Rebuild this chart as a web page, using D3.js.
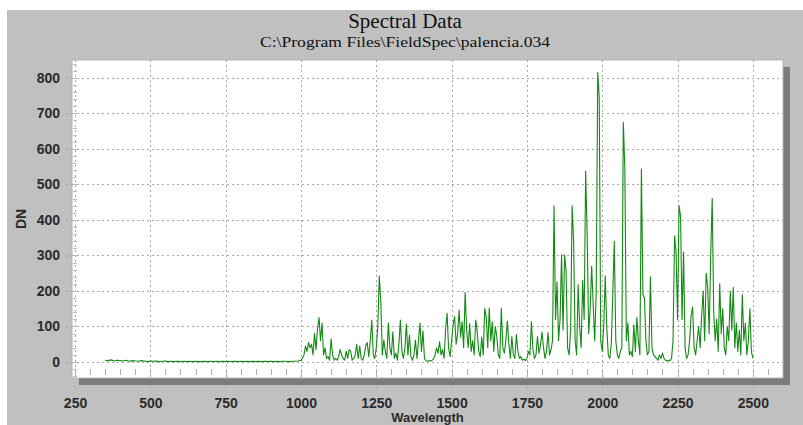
<!DOCTYPE html>
<html><head><meta charset="utf-8">
<script src="https://cdn.jsdelivr.net/npm/d3@7"></script>
<style>html,body{margin:0;padding:0;background:#fff;} svg{display:block;}</style>
</head><body>
<svg id="chart" width="803" height="425"></svg>
<script>
const title = "Spectral Data";
const subtitle = "C:\\Program Files\\FieldSpec\\palencia.034";
const xLabel = "Wavelength";
const yLabel = "DN";
const xTickValues = [250, 500, 750, 1000, 1250, 1500, 1750, 2000, 2250, 2500];
const yTickValues = [0, 100, 200, 300, 400, 500, 600, 700, 800];

const wavelengths = [
 350,360,370,380,390,400,410,420,430,440,450,460,470,480,490,500,510,520,530,540,
 550,560,570,580,590,600,610,620,630,640,650,660,670,680,690,700,710,720,730,740,
 750,760,770,780,790,800,810,820,830,840,850,860,870,880,890,900,910,920,930,940,
 950,960,970,980,990,
 1000,1005,1010,1015,1020,1025,1030,1035,1040,1045,1050,1055,1060,1065,1070,1075,1080,1085,1090,1095,
 1100,1105,1110,1115,1120,1125,1130,1135,1140,1145,1150,1155,1160,1165,1170,1175,1180,1185,1190,1195,
 1200,1205,1210,1215,1220,1225,1230,1235,1240,1245,1250,1255,1260,1265,1270,1275,1280,1285,1290,1295,
 1300,1305,1310,1315,1320,1325,1330,1335,1340,1345,1350,1355,1360,1365,1370,1375,1380,1385,1390,1395,
 1400,1405,1410,1415,1420,1425,1430,1435,1440,1445,1450,1455,1460,1465,1470,1475,1480,1485,1490,1495,
 1500,1505,1510,1515,1520,1525,1530,1535,1540,1545,1550,1555,1560,1565,1570,1575,1580,1585,1590,1595,
 1600,1605,1610,1615,1620,1625,1630,1635,1640,1645,1650,1655,1660,1665,1670,1675,1680,1685,1690,1695,
 1700,1705,1710,1715,1720,1725,1730,1735,1740,1745,1750,1755,1760,1765,1770,1775,1780,1785,1790,1795,
 1800,1805,1810,1815,1820,1825,1830,1835,1840,1845,1850,1855,1860,1865,1870,1875,1880,1885,1890,1895,
 1900,1905,1910,1915,1920,1925,1930,1935,1940,1945,1950,1955,1960,1965,1970,1975,1980,1985,1990,1995,
 2000,2005,2010,2015,2020,2025,2030,2035,2040,2045,2050,2055,2060,2065,2070,2075,2080,2085,2090,2095,
 2100,2105,2110,2115,2120,2125,2130,2135,2140,2145,2150,2155,2160,2165,2170,2175,2180,2185,2190,2195,
 2200,2205,2210,2215,2220,2225,2230,2235,2240,2245,2250,2255,2260,2265,2270,2275,2280,2285,2290,2295,
 2300,2305,2310,2315,2320,2325,2330,2335,2340,2345,2350,2355,2360,2365,2370,2375,2380,2385,2390,2395,
 2400,2405,2410,2415,2420,2425,2430,2435,2440,2445,2450,2455,2460,2465,2470,2475,2480,2485,2490,2495,
 2500
];

const dn = [
 5,4,6,3,5,4,3,5,2,4, 3,2,4,3,1,3,2,3,1,2,
 3,1,2,1,2,1,2,1,2,1, 2,1,1,2,1,2,1,2,1,2,
 1,2,1,2,1,2,1,2,1,2, 1,2,1,2,1,2,1,2,1,2,
 2,1,2,2,3,
 5,10,20,45,30,55,40,50,20,80, 35,95,125,60,110,20,40,10,15,5,
 65,20,5,10,5,15,35,20,10,5, 30,10,35,30,5,10,20,50,10,45,
 10,5,20,45,55,15,60,118,20,10, 40,100,242,170,20,62,30,10,110,40,
 20,85,10,25,5,50,118,30,10,40, 107,20,75,15,5,20,62,10,60,110,
 30,88,10,3,2,4,3,5,8,20, 40,25,57,20,35,10,90,137,40,15,
 60,105,128,50,80,146,70,113,40,196, 90,40,108,30,60,20,118,87,30,15,
 70,20,151,128,40,151,60,113,30,100, 72,20,10,151,40,25,60,115,51,10,
 72,20,10,77,31,10,15,5,8,4, 10,30,20,113,36,10,20,72,25,46,
 84,41,10,30,83,20,35,60,440,120, 225,60,120,302,90,302,255,40,20,90,
 440,340,60,20,218,100,40,230,120,537, 355,80,150,270,160,60,200,815,745,60,
 30,100,242,100,20,10,50,190,340,60, 20,10,30,40,675,545,60,110,20,30,
 15,105,30,125,60,20,543,190,180,60, 20,30,240,40,20,15,10,5,20,10,
 25,10,5,3,5,4,10,60,355,310, 120,440,410,120,310,40,10,20,60,130,
 155,40,20,60,100,40,130,200,60,250, 210,80,300,460,140,60,120,30,220,80,
 150,40,20,100,60,200,90,210,40,110, 30,90,20,190,60,110,20,60,150,30,
 10
];

const svg = d3.select("#chart");
const W = 803, H = 425;
svg.append("rect").attr("x", 7).attr("y", 10).attr("width", W - 7).attr("height", H - 10).attr("fill", "#c0c0c0");

const L = 72, R = 783, T = 60, B = 378;
const x = d3.scaleLinear().domain([240, 2600]).range([L, R]);
const y = d3.scaleLinear().domain([-45, 850]).range([B, T]);

// shadow + plot area
svg.append("rect").attr("x", L + 7).attr("y", T + 7).attr("width", R - L).attr("height", B - T).attr("fill", "#7c7c7c");
svg.append("rect").attr("x", L).attr("y", T).attr("width", R - L).attr("height", B - T)
  .attr("fill", "#ffffff").attr("stroke", "#b4b4b4").attr("stroke-width", 1);

const grid = svg.append("g").attr("stroke", "#a8a8a8").attr("stroke-width", 1).attr("stroke-dasharray", "2,3");
grid.selectAll("line.h").data(yTickValues).join("line").attr("class", "h")
  .attr("x1", L).attr("x2", R).attr("y1", d => Math.round(y(d)) + 0.5).attr("y2", d => Math.round(y(d)) + 0.5);
grid.selectAll("line.v").data(xTickValues).join("line").attr("class", "v")
  .attr("y1", T).attr("y2", B).attr("x1", d => Math.round(x(d)) + 0.5).attr("x2", d => Math.round(x(d)) + 0.5);

// minor ticks inside plot
const minorX = d3.range(250, 2600, 50);
svg.append("g").attr("stroke", "#b0b0b0").selectAll("line").data(minorX).join("line")
  .attr("x1", d => Math.round(x(d)) + 0.5).attr("x2", d => Math.round(x(d)) + 0.5)
  .attr("y1", B - 9).attr("y2", B - 3);
const minorY = d3.range(-40, 850, 20);
svg.append("g").attr("stroke", "#c0c0c0").selectAll("line").data(minorY).join("line")
  .attr("x1", L + 1).attr("x2", L + 5)
  .attr("y1", d => Math.round(y(d)) + 0.5).attr("y2", d => Math.round(y(d)) + 0.5);

// spectrum line
const pts = wavelengths.map((w, i) => [w, dn[i]]);
const line = d3.line().x(d => x(d[0])).y(d => y(d[1]));
svg.append("path").datum(pts).attr("d", line).attr("fill", "none")
  .attr("stroke", "#138a13").attr("stroke-width", 1.1).attr("stroke-linejoin", "round");

// axes
const font = "'Liberation Sans', Arial, sans-serif";
const yAxis = svg.append("g").attr("transform", `translate(${L},0)`)
  .call(d3.axisLeft(y).tickValues(yTickValues).tickFormat(d3.format("d")).tickSize(6).tickPadding(6));
yAxis.select(".domain").remove();
yAxis.selectAll(".tick line").attr("stroke", "#a8a8a8").attr("stroke-dasharray", "2,2");
yAxis.selectAll(".tick text").attr("font-family", font).attr("font-size", 14).attr("font-weight", "bold").attr("fill", "#2b2b2b");

const xAxis = svg.append("g").attr("transform", `translate(0,${B + 7})`)
  .call(d3.axisBottom(x).tickValues(xTickValues).tickFormat(d3.format("d")).tickSize(4).tickPadding(9));
xAxis.select(".domain").remove();
xAxis.selectAll(".tick line").attr("stroke", "#b0b0b0");
xAxis.selectAll(".tick text").attr("font-family", font).attr("font-size", 14).attr("font-weight", "bold").attr("fill", "#2b2b2b");

// titles
svg.append("text").attr("x", 405).attr("y", 28).attr("text-anchor", "middle")
  .attr("font-family", "'Liberation Serif', 'Times New Roman', serif").attr("font-size", 21).attr("fill", "#111").text(title);
svg.append("text").attr("x", 405).attr("y", 47).attr("text-anchor", "middle")
  .attr("font-family", "'Liberation Serif', 'Times New Roman', serif").attr("font-size", 15)
  .attr("textLength", 290).attr("lengthAdjust", "spacingAndGlyphs").attr("fill", "#111").text(subtitle);
svg.append("text").attr("x", (L + R) / 2).attr("y", 422).attr("text-anchor", "middle")
  .attr("font-family", font).attr("font-size", 13).attr("font-weight", "bold").attr("fill", "#2b2b2b").text(xLabel);
svg.append("text").attr("transform", `translate(26,${(T + B) / 2}) rotate(-90)`).attr("text-anchor", "middle")
  .attr("font-family", font).attr("font-size", 14).attr("font-weight", "bold").attr("fill", "#2b2b2b").text(yLabel);
</script>
</body></html>
